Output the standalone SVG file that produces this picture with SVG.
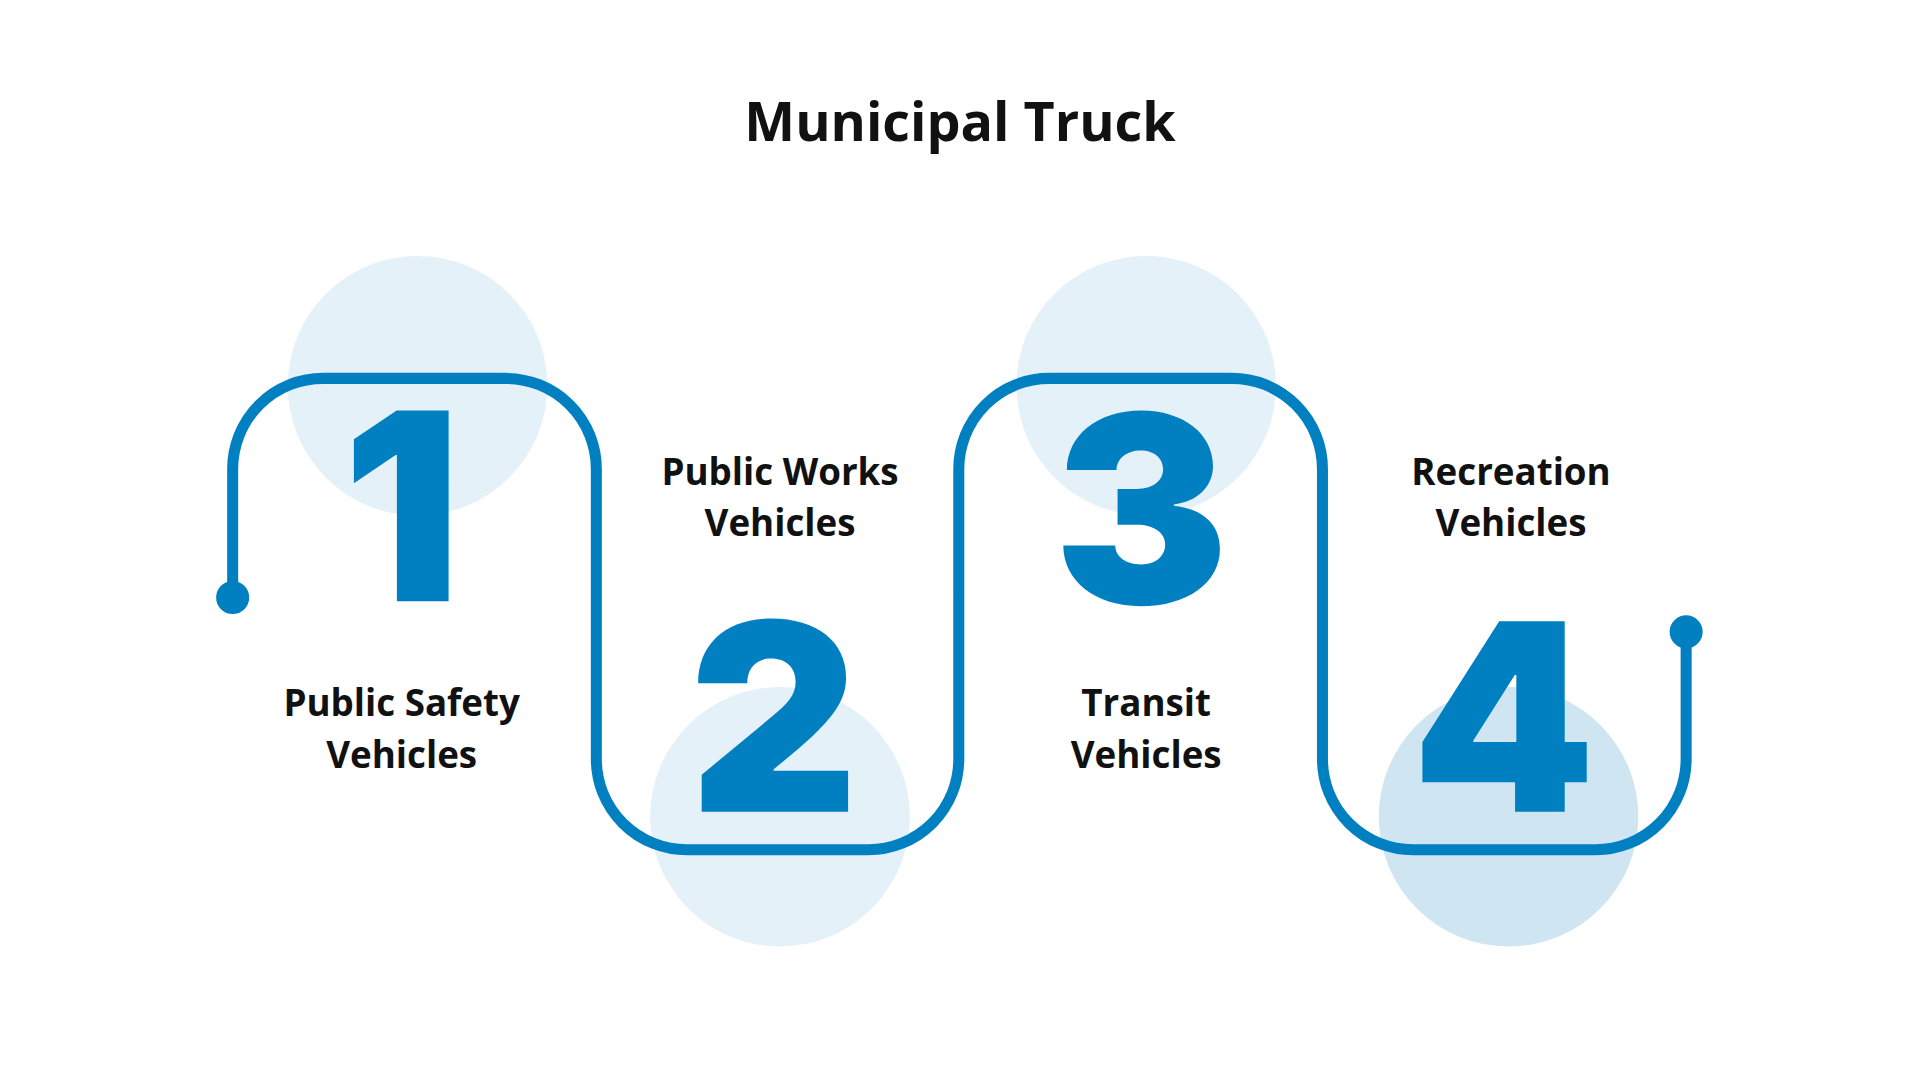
<svg xmlns="http://www.w3.org/2000/svg" width="1920" height="1080" viewBox="0 0 1920 1080">
<style>
.c{fill:#e5f1f8}
.n{font-family:Inter,"Open Sans",sans-serif;font-weight:900;font-size:214px;fill:#0080c0;text-anchor:middle}
.l{font-family:"Open Sans","Noto Sans",sans-serif;font-weight:700;font-size:30px;fill:#111;text-anchor:middle}
</style>
<rect width="1920" height="1080" fill="#fff"/>
<g transform="scale(1.2245)">
<text x="784" y="115" text-anchor="middle" style="font-family:'Open Sans','Noto Sans',sans-serif;font-weight:700;font-size:44px;fill:#111">Municipal Truck</text>
<g id="node1"><circle class="c" cx="341" cy="315" r="106"/></g>
<g id="node2"><circle class="c" cx="637" cy="667" r="106"/></g>
<g id="node3"><circle class="c" cx="936" cy="315" r="106"/></g>
<g id="node4"><circle cx="1232" cy="667" r="106" fill="#cfe6f2"/></g>
<g id="connectors" fill="none" stroke="#0080c0" stroke-width="9">
<path d="M190 488V383A74 74 0 0 1 264 309H413A74 74 0 0 1 487 383V620A74 74 0 0 0 561 694H709A74 74 0 0 0 783 620V383A74 74 0 0 1 857 309H1006A74 74 0 0 1 1080 383V620A74 74 0 0 0 1154 694H1303A74 74 0 0 0 1377 620V516"/>
<circle cx="190" cy="488" r="9" fill="#0080c0"/>
<circle cx="1377" cy="516" r="9" fill="#0080c0"/>
</g>
<g id="labels">
<text class="n" x="328" y="491">1</text>
<text class="n" x="632" y="663">2</text>
<text class="n" x="932" y="493">3</text>
<text class="n" x="1228" y="663">4</text>
<text class="l" x="328" y="585">Public Safety</text><text class="l" x="328" y="627">Vehicles</text>
<text class="l" x="637" y="396">Public Works</text><text class="l" x="637" y="438">Vehicles</text>
<text class="l" x="936" y="585">Transit</text><text class="l" x="936" y="627">Vehicles</text>
<text class="l" x="1234" y="396">Recreation</text><text class="l" x="1234" y="438">Vehicles</text>
</g>
</g>
</svg>
